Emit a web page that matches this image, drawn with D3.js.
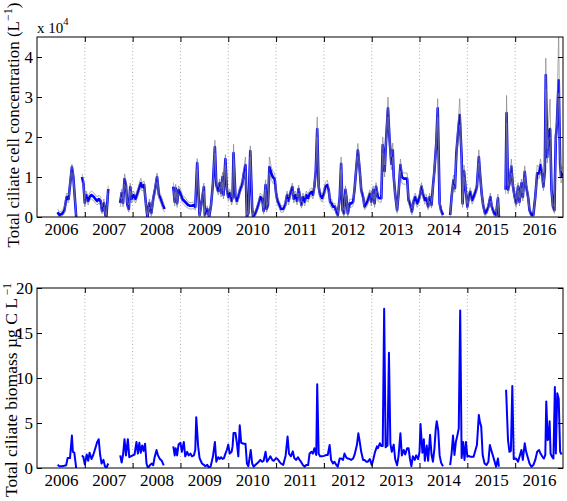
<!DOCTYPE html>
<html><head><meta charset="utf-8">
<script src="https://cdn.jsdelivr.net/npm/d3@7"></script>
<style>
body{margin:0;background:#fff}
svg{display:block}
text{font-family:"Liberation Serif","Times New Roman",Times,serif;fill:#000}
</style>
</head><body>
<svg id="c" width="567" height="501"></svg>
<script>
// ---------- DATA ----------
const yearLabels = [2006,2007,2008,2009,2010,2011,2012,2013,2014,2015,2016];
const yearBounds = [2007,2008,2009,2010,2011,2012,2013,2014,2015,2016];
const cellTicks = [0,1,2,3,4];
const bioTicks = [0,5,10,15,20];

// total ciliate cell concentration (x 10^4 L^-1): sampling dates, mean, lower and upper bounds (null = gap)
const cellDates = [
2006.43,2006.47,2006.52,2006.57,2006.62,2006.66,2006.70,2006.73,2006.76,2006.79,2006.82, null,
2006.94,2006.97,2007.00,2007.03,2007.07,2007.10,2007.14,2007.19,2007.22,2007.26,2007.29,2007.33,2007.36,2007.40,2007.43,2007.45,2007.49, null,
2007.74,2007.77,2007.80,2007.83,2007.86,2007.89,2007.92,2007.95,2007.98,2008.02,2008.06,2008.09,2008.13,2008.17,2008.20,2008.24,2008.28,2008.31,2008.35,2008.39,2008.43,2008.47,2008.51,2008.55,2008.59,2008.63,2008.67, null,
2008.85,2008.88,2008.90,2008.93,2008.96,2009.00,2009.04,2009.08,2009.12,2009.16,
2009.20,2009.24,2009.28,2009.31,2009.35,2009.38,2009.40,2009.44,2009.49,2009.51,
2009.56,2009.60,2009.64,2009.68,2009.72,2009.75,2009.79,2009.82,2009.85,2009.88,
2009.90,2009.94,2009.97,2010.00,2010.03,2010.07,2010.09,2010.11,2010.15,2010.18,
2010.22,2010.25,2010.29,2010.32,2010.36,2010.39,2010.42,2010.46,2010.50,2010.52,
2010.57,2010.60,2010.64,2010.67,2010.71,2010.74,2010.78,2010.80,2010.83,2010.86,
2010.90,2010.93,2010.97,2011.00,2011.03,2011.07,2011.10,2011.15,2011.19,2011.23,
2011.26,2011.30,2011.34,2011.37,2011.40,2011.44,2011.47,2011.50,2011.53,2011.56,
2011.60,2011.63,2011.67,2011.70,2011.74,2011.77,2011.80,2011.83,2011.86,2011.89,
2011.92,2011.96,2012.00,2012.03,2012.07,2012.10,2012.13,2012.16,2012.19,2012.23,
2012.26,2012.29,2012.33,2012.36,2012.39,2012.42,2012.45,2012.47,2012.50,2012.54,
2012.57,2012.61,2012.64,2012.68,2012.71,2012.75,2012.78,2012.82,2012.85,2012.89,
2012.92,2012.96,2012.99,2013.03,2013.06,2013.09,2013.13,2013.16,2013.20,2013.23,
2013.27,2013.30,2013.34,2013.37,2013.41,2013.44,2013.46,2013.49,2013.53,2013.56,
2013.60,2013.63,2013.67,2013.70,2013.74,2013.77,2013.80,2013.84,2013.88,2013.91,
2013.95,2013.98,2014.01,2014.04,2014.07,2014.11,2014.14,2014.18,2014.21,2014.25,
2014.28,2014.31,2014.35,2014.38,2014.42,2014.45,2014.49, null,
2014.64,2014.67,2014.71,2014.74,2014.77,2014.81,2014.84,2014.88,2014.90,2014.93,
2014.96,2015.00,2015.03,2015.06,2015.10,2015.13,2015.17,2015.20,2015.24,2015.26,
2015.30,2015.33,2015.37,2015.40,2015.44,2015.48,2015.51,2015.56,2015.60,2015.64,
2015.66, null,
2015.80,2015.82,2015.85,2015.88,2015.92,2015.95,2015.99,2016.02,2016.06,2016.09,
2016.13,2016.16,2016.20,2016.23,2016.27,2016.30,2016.34,2016.38,2016.42,2016.46,
2016.50,2016.53,2016.57,2016.59,2016.62,2016.64,2016.67,2016.70,2016.73,2016.76,
2016.79,2016.82,2016.85,2016.87,2016.91,2016.94,2016.96,2016.99
];
const cellMean = [
0.12,0.05,0.08,0.15,0.50,0.45,0.90,1.25,1.00,0.50,0.00, null,
1.00,0.85,0.35,0.55,0.40,0.50,0.55,0.50,0.45,0.40,0.45,0.40,0.15,0.35,0.05,0.00,0.70, null,
0.35,0.60,0.35,0.95,0.80,0.30,0.20,0.75,0.45,0.55,0.45,0.55,0.70,0.85,0.75,0.80,0.30,0.00,0.35,0.10,0.45,0.70,1.00,0.55,0.45,0.30,0.20, null,
0.76,0.38,0.72,0.34,0.68,0.59,0.45,0.40,0.35,0.30,
0.28,0.28,0.30,0.25,1.35,0.50,0.05,0.35,0.75,0.05,
0.20,0.00,0.30,0.85,1.75,0.80,0.65,0.85,0.60,1.00,
0.55,1.45,0.70,0.50,0.60,0.40,0.50,1.60,0.50,0.40,
0.55,0.70,0.80,1.05,1.30,0.00,0.10,1.65,0.20,0.00,
0.10,0.20,0.35,0.50,0.45,0.15,0.80,0.20,0.30,1.25,
1.10,1.00,0.95,0.60,0.40,0.30,0.20,0.20,0.30,0.55,
0.40,0.60,0.75,0.45,0.55,0.40,0.70,0.50,0.30,0.50,
0.38,0.55,0.47,0.58,0.63,0.55,0.76,1.15,2.20,0.76,
0.55,0.47,0.58,0.76,0.80,0.68,0.38,0.34,0.26,0.26,
0.13,0.05,0.47,1.33,0.17,0.09,0.68,0.50,0.09,0.34,
0.34,0.38,0.68,1.26,1.67,1.15,0.68,0.50,0.26,0.34,
0.42,0.58,0.38,0.68,0.34,0.76,0.50,0.47,0.47,1.80,
1.15,1.92,2.72,2.00,1.33,1.67,1.00,0.58,0.17,0.58,
1.30,1.00,0.96,0.96,0.96,0.42,0.34,0.13,0.42,0.50,
0.34,0.42,0.55,0.76,0.58,0.42,0.47,0.26,0.50,0.30,
0.76,1.15,1.84,2.72,0.34,0.17,0.05, null,
0.05,0.50,0.92,0.72,1.60,2.17,2.55,1.50,0.34,1.15,
0.76,0.26,0.50,0.63,0.42,0.50,0.63,0.76,1.50,1.15,
0.58,0.30,0.09,0.13,0.26,0.50,0.26,0.09,0.05,0.47,
0.00, null,
0.68,2.60,0.68,0.84,1.26,0.80,0.50,0.34,0.76,0.38,
0.84,0.50,1.13,0.76,0.50,0.17,0.05,0.05,0.50,1.09,
1.09,1.30,1.00,0.76,1.15,3.55,1.50,2.17,2.20,0.68,
0.26,0.17,2.00,2.25,3.42,1.33,1.00,1.10
];
const cellLow = [
0.05,0.00,0.02,0.08,0.40,0.35,0.80,1.12,0.90,0.40,0.00, null,
0.88,0.75,0.25,0.45,0.30,0.42,0.45,0.40,0.35,0.30,0.35,0.30,0.08,0.25,0.00,0.00,0.60, null,
0.25,0.50,0.25,0.82,0.70,0.20,0.12,0.65,0.35,0.45,0.35,0.45,0.60,0.75,0.65,0.70,0.20,0.00,0.25,0.02,0.35,0.60,0.88,0.45,0.35,0.20,0.12, null,
0.66,0.28,0.62,0.24,0.58,0.50,0.35,0.30,0.25,0.22,
0.20,0.20,0.22,0.17,1.20,0.40,0.00,0.25,0.65,0.00,
0.12,0.00,0.22,0.75,1.60,0.70,0.55,0.75,0.50,0.88,
0.45,1.30,0.60,0.40,0.50,0.30,0.40,1.45,0.40,0.30,
0.45,0.60,0.70,0.92,1.15,0.00,0.02,1.50,0.12,0.00,
0.02,0.12,0.25,0.40,0.35,0.07,0.70,0.12,0.22,1.10,
0.95,0.85,0.80,0.48,0.30,0.22,0.12,0.12,0.22,0.45,
0.30,0.50,0.65,0.35,0.45,0.30,0.60,0.40,0.22,0.40,
0.28,0.45,0.37,0.48,0.53,0.45,0.66,1.00,2.00,0.66,
0.45,0.37,0.48,0.66,0.68,0.58,0.28,0.24,0.18,0.18,
0.05,0.00,0.37,1.18,0.09,0.01,0.58,0.40,0.01,0.24,
0.24,0.28,0.58,1.12,1.52,1.00,0.58,0.40,0.18,0.24,
0.32,0.48,0.28,0.58,0.24,0.66,0.40,0.37,0.37,1.60,
1.00,1.75,2.50,1.80,1.18,1.50,0.85,0.48,0.09,0.48,
1.15,0.85,0.82,0.82,0.82,0.32,0.24,0.05,0.32,0.40,
0.24,0.32,0.45,0.66,0.48,0.32,0.37,0.18,0.40,0.22,
0.66,1.00,1.68,2.50,0.24,0.09,0.00, null,
0.00,0.40,0.80,0.62,1.45,1.95,2.30,1.35,0.24,1.00,
0.66,0.18,0.40,0.53,0.32,0.40,0.53,0.66,1.35,1.00,
0.48,0.22,0.01,0.05,0.18,0.40,0.18,0.01,0.00,0.37,
0.00, null,
0.58,2.35,0.58,0.72,1.10,0.70,0.40,0.24,0.66,0.28,
0.72,0.40,1.00,0.66,0.40,0.09,0.00,0.00,0.40,0.95,
0.95,1.15,0.85,0.66,1.00,3.20,1.35,1.95,2.00,0.58,
0.18,0.09,1.80,2.00,3.10,1.18,0.85,0.95
];
const cellHigh = [
0.20,0.12,0.15,0.25,0.60,0.55,1.05,1.32,1.12,0.60,0.05, null,
1.08,0.95,0.45,0.65,0.50,0.60,0.65,0.60,0.55,0.50,0.55,0.50,0.25,0.45,0.12,0.05,0.78, null,
0.45,0.70,0.45,1.08,0.92,0.40,0.30,0.85,0.55,0.65,0.55,0.65,0.80,0.97,0.85,0.90,0.40,0.05,0.45,0.20,0.55,0.80,1.10,0.65,0.55,0.40,0.28, null,
0.86,0.48,0.82,0.44,0.78,0.70,0.55,0.50,0.45,0.38,
0.36,0.36,0.38,0.33,1.46,0.60,0.12,0.45,0.85,0.12,
0.28,0.05,0.38,0.95,1.92,0.92,0.75,0.95,0.70,1.12,
0.65,1.56,0.80,0.60,0.70,0.50,0.60,1.82,0.60,0.50,
0.65,0.80,0.92,1.18,1.50,0.05,0.18,1.78,0.28,0.05,
0.18,0.28,0.45,0.60,0.55,0.23,0.93,0.28,0.38,1.50,
1.25,1.15,1.10,0.72,0.50,0.38,0.28,0.28,0.38,0.65,
0.50,0.70,0.85,0.55,0.65,0.50,0.80,0.60,0.38,0.60,
0.48,0.65,0.57,0.68,0.73,0.65,0.86,1.30,2.50,0.86,
0.65,0.57,0.68,0.86,0.92,0.78,0.48,0.44,0.34,0.34,
0.21,0.12,0.57,1.50,0.25,0.17,0.78,0.60,0.17,0.44,
0.44,0.48,0.78,1.40,1.84,1.30,0.78,0.60,0.34,0.44,
0.52,0.68,0.48,0.78,0.44,0.86,0.60,0.57,0.57,2.00,
1.30,2.10,3.00,2.20,1.50,1.85,1.15,0.68,0.25,0.68,
1.45,1.15,1.10,1.10,1.10,0.52,0.44,0.21,0.52,0.60,
0.44,0.52,0.65,0.86,0.68,0.52,0.57,0.34,0.60,0.38,
0.86,1.30,2.00,2.96,0.44,0.25,0.12, null,
0.12,0.60,1.05,0.82,1.75,2.40,2.96,1.65,0.44,1.30,
0.86,0.34,0.60,0.73,0.52,0.60,0.73,0.86,1.68,1.30,
0.68,0.38,0.17,0.21,0.34,0.60,0.34,0.17,0.12,0.57,
0.05, null,
0.78,3.04,0.78,0.95,1.45,0.90,0.60,0.44,0.86,0.48,
0.95,0.60,1.28,0.86,0.60,0.25,0.12,0.12,0.60,1.30,
1.25,1.45,1.15,0.86,1.30,3.97,1.70,2.40,2.95,0.78,
0.34,0.25,2.20,2.45,4.60,1.50,1.15,1.25
];

// total ciliate biomass (ug C L^-1)
const bioDates = [
2006.43,2006.47,2006.52,2006.57,2006.61,2006.64,2006.69,2006.73,2006.75,2006.78,2006.82, null,
2006.94,2006.97,2007.00,2007.04,2007.07,2007.10,2007.14,2007.18,2007.22,2007.26,2007.29,2007.32,2007.35,2007.39,2007.42,2007.45,2007.49, null,
2007.74,2007.77,2007.80,2007.83,2007.86,2007.90,2007.93,2007.96,2008.00,2008.04,2008.08,2008.11,2008.14,2008.17,2008.20,2008.23,2008.26,2008.29,2008.32,2008.36,2008.40,2008.43,2008.46,2008.50,2008.53,2008.57,2008.61,2008.65, null,
2008.85,2008.88,2008.90,2008.93,2008.96,2009.00,2009.03,2009.07,2009.10,2009.14,
2009.17,2009.21,2009.24,2009.28,2009.31,2009.33,2009.37,2009.40,2009.45,2009.49,
2009.52,2009.56,2009.59,2009.63,2009.68,2009.72,2009.75,2009.79,2009.82,2009.85,
2009.88,2009.91,2009.94,2009.97,2010.00,2010.03,2010.07,2010.09,2010.11,2010.15,
2010.18,2010.21,2010.24,2010.27,2010.32,2010.36,2010.39,2010.42,2010.47,2010.50,
2010.53,2010.57,2010.60,2010.64,2010.67,2010.71,2010.74,2010.78,2010.81,2010.85,
2010.88,2010.92,2010.95,2011.00,2011.03,2011.07,2011.10,2011.15,2011.20,2011.24,
2011.27,2011.31,2011.35,2011.38,2011.42,2011.46,2011.49,2011.52,2011.56,2011.60,
2011.63,2011.67,2011.70,2011.74,2011.77,2011.80,2011.84,2011.86,2011.89,2011.92,
2011.96,2012.00,2012.05,2012.08,2012.12,2012.15,2012.19,2012.22,2012.26,2012.29,
2012.33,2012.36,2012.40,2012.43,2012.47,2012.50,2012.54,2012.57,2012.61,2012.64,
2012.69,2012.72,2012.75,2012.78,2012.82,2012.85,2012.89,2012.92,2012.96,2013.00,
2013.03,2013.07,2013.11,2013.13,2013.17,2013.20,2013.23,2013.26,2013.29,2013.33,
2013.36,2013.39,2013.42,2013.46,2013.49,2013.53,2013.56,2013.60,2013.63,2013.67,
2013.70,2013.74,2013.77,2013.80,2013.83,2013.86,2013.90,2013.93,2013.97,2014.00,
2014.02,2014.06,2014.09,2014.11,2014.15,2014.18,2014.22,2014.25,2014.28,2014.31,
2014.34,2014.36,2014.39,2014.42,2014.45,2014.49, null,
2014.64,2014.67,2014.70,2014.73,2014.76,2014.79,2014.82,2014.85,2014.88,2014.91,
2014.94,2014.97,2015.00,2015.03,2015.06,2015.10,2015.13,2015.17,2015.20,2015.24,
2015.26,2015.29,2015.32,2015.36,2015.40,2015.44,2015.47,2015.51,2015.56,2015.60,
2015.64,2015.66, null,
2015.81,2015.85,2015.88,2015.91,2015.94,2015.97,2016.02,2016.06,2016.09,2016.13,
2016.16,2016.20,2016.23,2016.27,2016.30,2016.34,2016.38,2016.42,2016.46,2016.50,
2016.53,2016.57,2016.60,2016.63,2016.65,2016.68,2016.70,2016.72,2016.74,2016.77,
2016.80,2016.83,2016.85,2016.88,2016.91,2016.94,2016.97
];
const bioValues = [
0.35,0.20,0.20,0.25,0.30,1.10,1.10,3.60,1.80,1.70,0.00, null,
1.40,1.20,0.40,1.50,0.80,1.70,1.00,1.50,2.20,2.90,3.20,1.50,0.50,0.90,0.20,0.00,0.50, null,
1.40,0.60,1.50,3.20,1.40,3.20,1.20,1.30,1.40,1.50,2.90,1.60,2.80,1.70,2.50,1.90,2.70,0.50,0.00,0.30,0.50,0.30,1.20,2.00,1.40,1.00,0.80,0.30, null,
2.40,1.40,2.20,1.40,2.60,2.80,1.80,2.90,1.30,1.80,
1.40,1.60,1.30,1.40,2.00,5.65,2.40,1.10,0.50,0.35,
0.20,0.35,0.10,0.15,1.30,2.90,0.70,1.20,1.00,1.20,
1.00,1.10,1.60,2.00,2.60,1.60,1.80,2.40,3.90,3.90,
2.80,1.30,4.75,2.80,2.70,2.70,0.50,0.20,2.00,0.50,
0.15,0.35,0.50,0.70,0.90,0.70,0.80,1.80,0.70,1.00,
1.30,0.90,0.80,1.10,1.00,0.70,0.50,0.35,1.40,3.50,
1.60,1.30,1.85,1.10,0.90,1.20,0.90,0.70,0.33,0.15,
0.33,0.33,1.60,1.80,1.60,2.20,1.45,9.30,1.60,1.30,
1.30,1.35,1.45,1.45,2.55,0.90,0.50,0.70,0.33,0.15,
1.05,1.05,0.90,1.60,1.15,1.05,1.00,0.90,1.05,1.45,
2.55,3.85,2.90,1.80,0.90,0.90,0.70,0.70,1.00,0.33,
0.90,1.80,2.40,2.20,2.75,2.45,2.45,17.70,2.30,2.50,
12.80,2.70,1.80,2.60,1.00,0.30,1.30,3.85,1.40,2.00,
1.50,2.20,2.20,1.00,0.20,1.30,0.90,1.40,1.00,1.80,
4.90,1.70,3.20,0.80,2.50,0.80,3.70,1.50,0.70,2.10,
4.40,5.20,4.20,1.40,0.60,0.20, null,
0.33,1.60,3.60,1.45,2.90,3.60,4.40,17.50,1.10,2.90,
0.90,2.90,1.25,1.35,1.25,1.25,1.25,2.00,2.55,5.90,
5.15,4.60,1.45,0.50,0.33,0.70,2.55,1.80,0.90,0.15,
1.05,0.15, null,
8.70,3.10,1.80,1.90,9.10,1.00,1.05,0.70,1.25,2.00,
0.90,2.75,1.80,1.05,0.50,0.15,0.33,0.90,1.80,2.00,
1.60,1.25,1.05,1.45,7.40,3.10,3.30,5.20,1.60,1.25,
1.05,9.00,1.60,8.30,7.70,1.80,1.50
];

// ---------- CHART ----------
const svg = d3.select('#c');
const L = 37, R = 563;
const P1 = {t: 37, b: 217};
const P2 = {t: 288, b: 468};
const FONT = '"Liberation Serif","Times New Roman",Times,serif';

const x = d3.scaleLinear().domain([2006, 2017]).range([L, R]);
const yCell = d3.scaleLinear().domain([0, 4.5]).range([P1.b, P1.t]);
const yBio = d3.scaleLinear().domain([0, 20]).range([P2.b, P2.t]);

const cellRows = cellDates.map((d, i) => ({t: d, m: cellMean[i], lo: cellLow[i], hi: cellHigh[i]}));
const bioRows = bioDates.map((d, i) => ({t: d, v: bioValues[i]}));

function drawFrame(P, id) {
  svg.append('g').selectAll('line').data(yearBounds).join('line')
    .attr('x1', d => x(d)).attr('x2', d => x(d))
    .attr('y1', P.t).attr('y2', P.b)
    .attr('stroke', '#9a9a9a').attr('stroke-width', 0.8)
    .attr('stroke-dasharray', '1,2.5');
  svg.append('clipPath').attr('id', id).append('rect')
    .attr('x', L).attr('y', P.t).attr('width', R - L).attr('height', P.b - P.t);
}

function drawAxes(y, P, ticks) {
  const style = g => {
    g.select('.domain').remove();
    g.selectAll('line').attr('stroke', '#000');
    g.selectAll('text').attr('font-family', FONT).attr('font-size', 17).attr('fill', '#000');
  };
  svg.append('g').attr('transform', `translate(0,${P.b})`)
    .call(d3.axisBottom(x).tickValues(yearBounds).tickSize(-5).tickFormat('')).call(style);
  svg.append('g').attr('transform', `translate(0,${P.t})`)
    .call(d3.axisTop(x).tickValues(yearBounds).tickSize(-5).tickFormat('')).call(style);
  svg.append('g').attr('transform', `translate(0,${P.b})`)
    .call(d3.axisBottom(x).tickValues(yearLabels.map(v => v + 0.5)).tickSize(0).tickPadding(6)
      .tickFormat(d => String(Math.floor(d)))).call(style);
  svg.append('g').attr('transform', `translate(${L},0)`)
    .call(d3.axisLeft(y).tickValues(ticks).tickSize(-5).tickPadding(4).tickFormat(d3.format('d'))).call(style);
  svg.append('g').attr('transform', `translate(${R},0)`)
    .call(d3.axisRight(y).tickValues(ticks).tickSize(-5).tickFormat('')).call(style);
  svg.append('rect').attr('x', L).attr('y', P.t).attr('width', R - L).attr('height', P.b - P.t)
    .attr('fill', 'none').attr('stroke', '#000').attr('stroke-width', 1);
}

const ok = k => d => d.t != null && d[k] != null;

// --- top panel ---
drawFrame(P1, 'clip1');
const gTop = svg.append('g').attr('clip-path', 'url(#clip1)');
gTop.append('path').datum(cellRows)
  .attr('d', d3.line().defined(ok('m')).x(d => x(d.t)).y(d => yCell(d.m)))
  .attr('fill', 'none').attr('stroke', '#0000ff').attr('stroke-width', 2.6).attr('stroke-linejoin', 'round');
['lo', 'hi'].forEach(k => {
  gTop.append('path').datum(cellRows)
    .attr('d', d3.line().defined(ok(k)).x(d => x(d.t)).y(d => yCell(d[k])))
    .attr('fill', 'none').attr('stroke', '#808080').attr('stroke-width', 0.8).attr('stroke-opacity', 0.8);
});
drawAxes(yCell, P1, cellTicks);

// --- bottom panel ---
drawFrame(P2, 'clip2');
const gBot = svg.append('g').attr('clip-path', 'url(#clip2)');
gBot.append('path').datum(bioRows)
  .attr('d', d3.line().defined(ok('v')).x(d => x(d.t)).y(d => yBio(d.v)))
  .attr('fill', 'none').attr('stroke', '#0000ff').attr('stroke-width', 2).attr('stroke-linejoin', 'round');
drawAxes(yBio, P2, bioTicks);

// --- labels ---
const exp = svg.append('text').attr('x', 37).attr('y', 33).attr('font-size', 15);
exp.append('tspan').text('x 10');
exp.append('tspan').attr('dy', -8).attr('font-size', 10.5).text('4');

const yl1 = svg.append('text').attr('transform', 'translate(19,125) rotate(-90)')
  .attr('text-anchor', 'middle').attr('font-size', 17);
yl1.append('tspan').text('Total ciliate cell concentration (L');
yl1.append('tspan').attr('dy', -7).attr('font-size', 12).text('\u22121');
yl1.append('tspan').attr('dy', 7).text(')');

const yl2 = svg.append('text').attr('transform', 'translate(17,390) rotate(-90)')
  .attr('text-anchor', 'middle').attr('font-size', 17.5);
yl2.append('tspan').text('Total ciliate biomass \u00b5g C L');
yl2.append('tspan').attr('dy', -6).attr('font-size', 11.5).text(' \u22121');
</script>
</body></html>
